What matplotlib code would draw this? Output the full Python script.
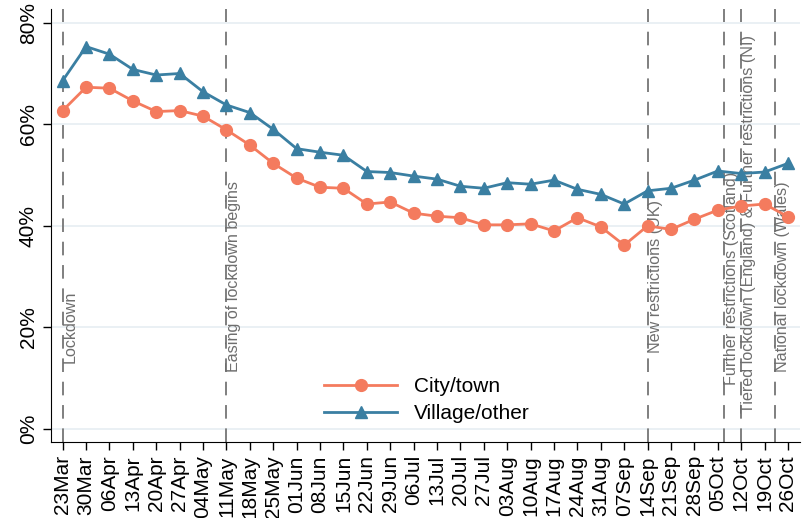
import pandas as pd
import matplotlib
matplotlib.use("Agg")
import matplotlib.pyplot as plt
import matplotlib.dates as mdates

plt.rcParams['font.family'] = ['Liberation Sans', 'DejaVu Sans']

# weekly dates and shares (%)
weeks = pd.date_range('2020-03-23', '2020-10-26', freq='7D')
city_town = [62.7, 67.3, 67.1, 64.6, 62.5, 62.7, 61.6, 58.9, 55.9, 52.3,
             49.4, 47.6, 47.4, 44.3, 44.7, 42.5, 41.9, 41.6, 40.2, 40.2,
             40.4, 39.0, 41.6, 39.8, 36.2, 40.0, 39.3, 41.3, 43.1, 43.9,
             44.3, 41.8]
village_other = [68.6, 75.3, 73.8, 70.8, 69.7, 70.0, 66.4, 63.8, 62.3, 59.0,
                 55.2, 54.5, 53.9, 50.7, 50.5, 49.8, 49.2, 47.8, 47.4, 48.5,
                 48.2, 49.0, 47.2, 46.2, 44.3, 46.9, 47.4, 49.0, 50.8, 50.3,
                 50.6, 52.3]

# events marked with dashed lines
event_dates = ['2020-03-23', '2020-05-11', '2020-09-14', '2020-10-07',
               '2020-10-12', '2020-10-22']
event_labels = ['Lockdown', 'Easing of lockdown begins', 'New restrictions (UK)',
                'Further restrictions (Scotland)',
                'Tiered lockdown (England) & Further restrictions (NI)',
                'National lockdown (Wales)']
event_label_y = [13.0, 11.2, 15.0, 8.7, 3.1, 11.2]

orange = '#F47B5E'
blue = '#3A7FA2'

fig = plt.figure(figsize=(8.12, 5.18), dpi=100)
ax = fig.add_axes([51 / 812, 1 - 442 / 518, 749 / 812, 433 / 518])

for y in [0, 20, 40, 60, 80]:
    ax.axhline(y, color='#E6EDF2', lw=1.2, zorder=0)

for d, lab, ly in zip(event_dates, event_labels, event_label_y):
    xd = pd.Timestamp(d)
    ax.axvline(xd, color='#7F7F7F', lw=1.4, ls=(0, (7, 5)), zorder=1)
    ax.text(xd, ly, lab, rotation=90, ha='left', va='bottom',
            fontsize=11.6, color='#6E6E6E', zorder=2)

ax.plot(weeks, city_town, color=orange, lw=2, marker='o', ms=8.5,
        label='City/town', zorder=3)
ax.plot(weeks, village_other, color=blue, lw=2, marker='^', ms=8,
        label='Village/other', zorder=3)

ax.set_ylim(-2.56, 82.7)
ax.set_yticks([0, 20, 40, 60, 80])
ax.set_yticklabels(['0%', '20%', '40%', '60%', '80%'], rotation=90, va='center')
ax.set_xlim(weeks[0] - pd.Timedelta(days=3.5), weeks[-1] + pd.Timedelta(days=3.6))
ax.set_xticks(weeks)
ax.xaxis.set_major_formatter(mdates.DateFormatter('%d%b'))
plt.setp(ax.get_xticklabels(), rotation=90)
ax.tick_params(axis='both', labelsize=15, length=6, width=1, direction='out')

for side in ['top', 'right']:
    ax.spines[side].set_visible(False)

ax.legend(loc='lower left', bbox_to_anchor=(0.34, 0.0), frameon=False,
          fontsize=15, handlelength=3.5, labelspacing=0.4)

fig.savefig('out.png', dpi=100)
